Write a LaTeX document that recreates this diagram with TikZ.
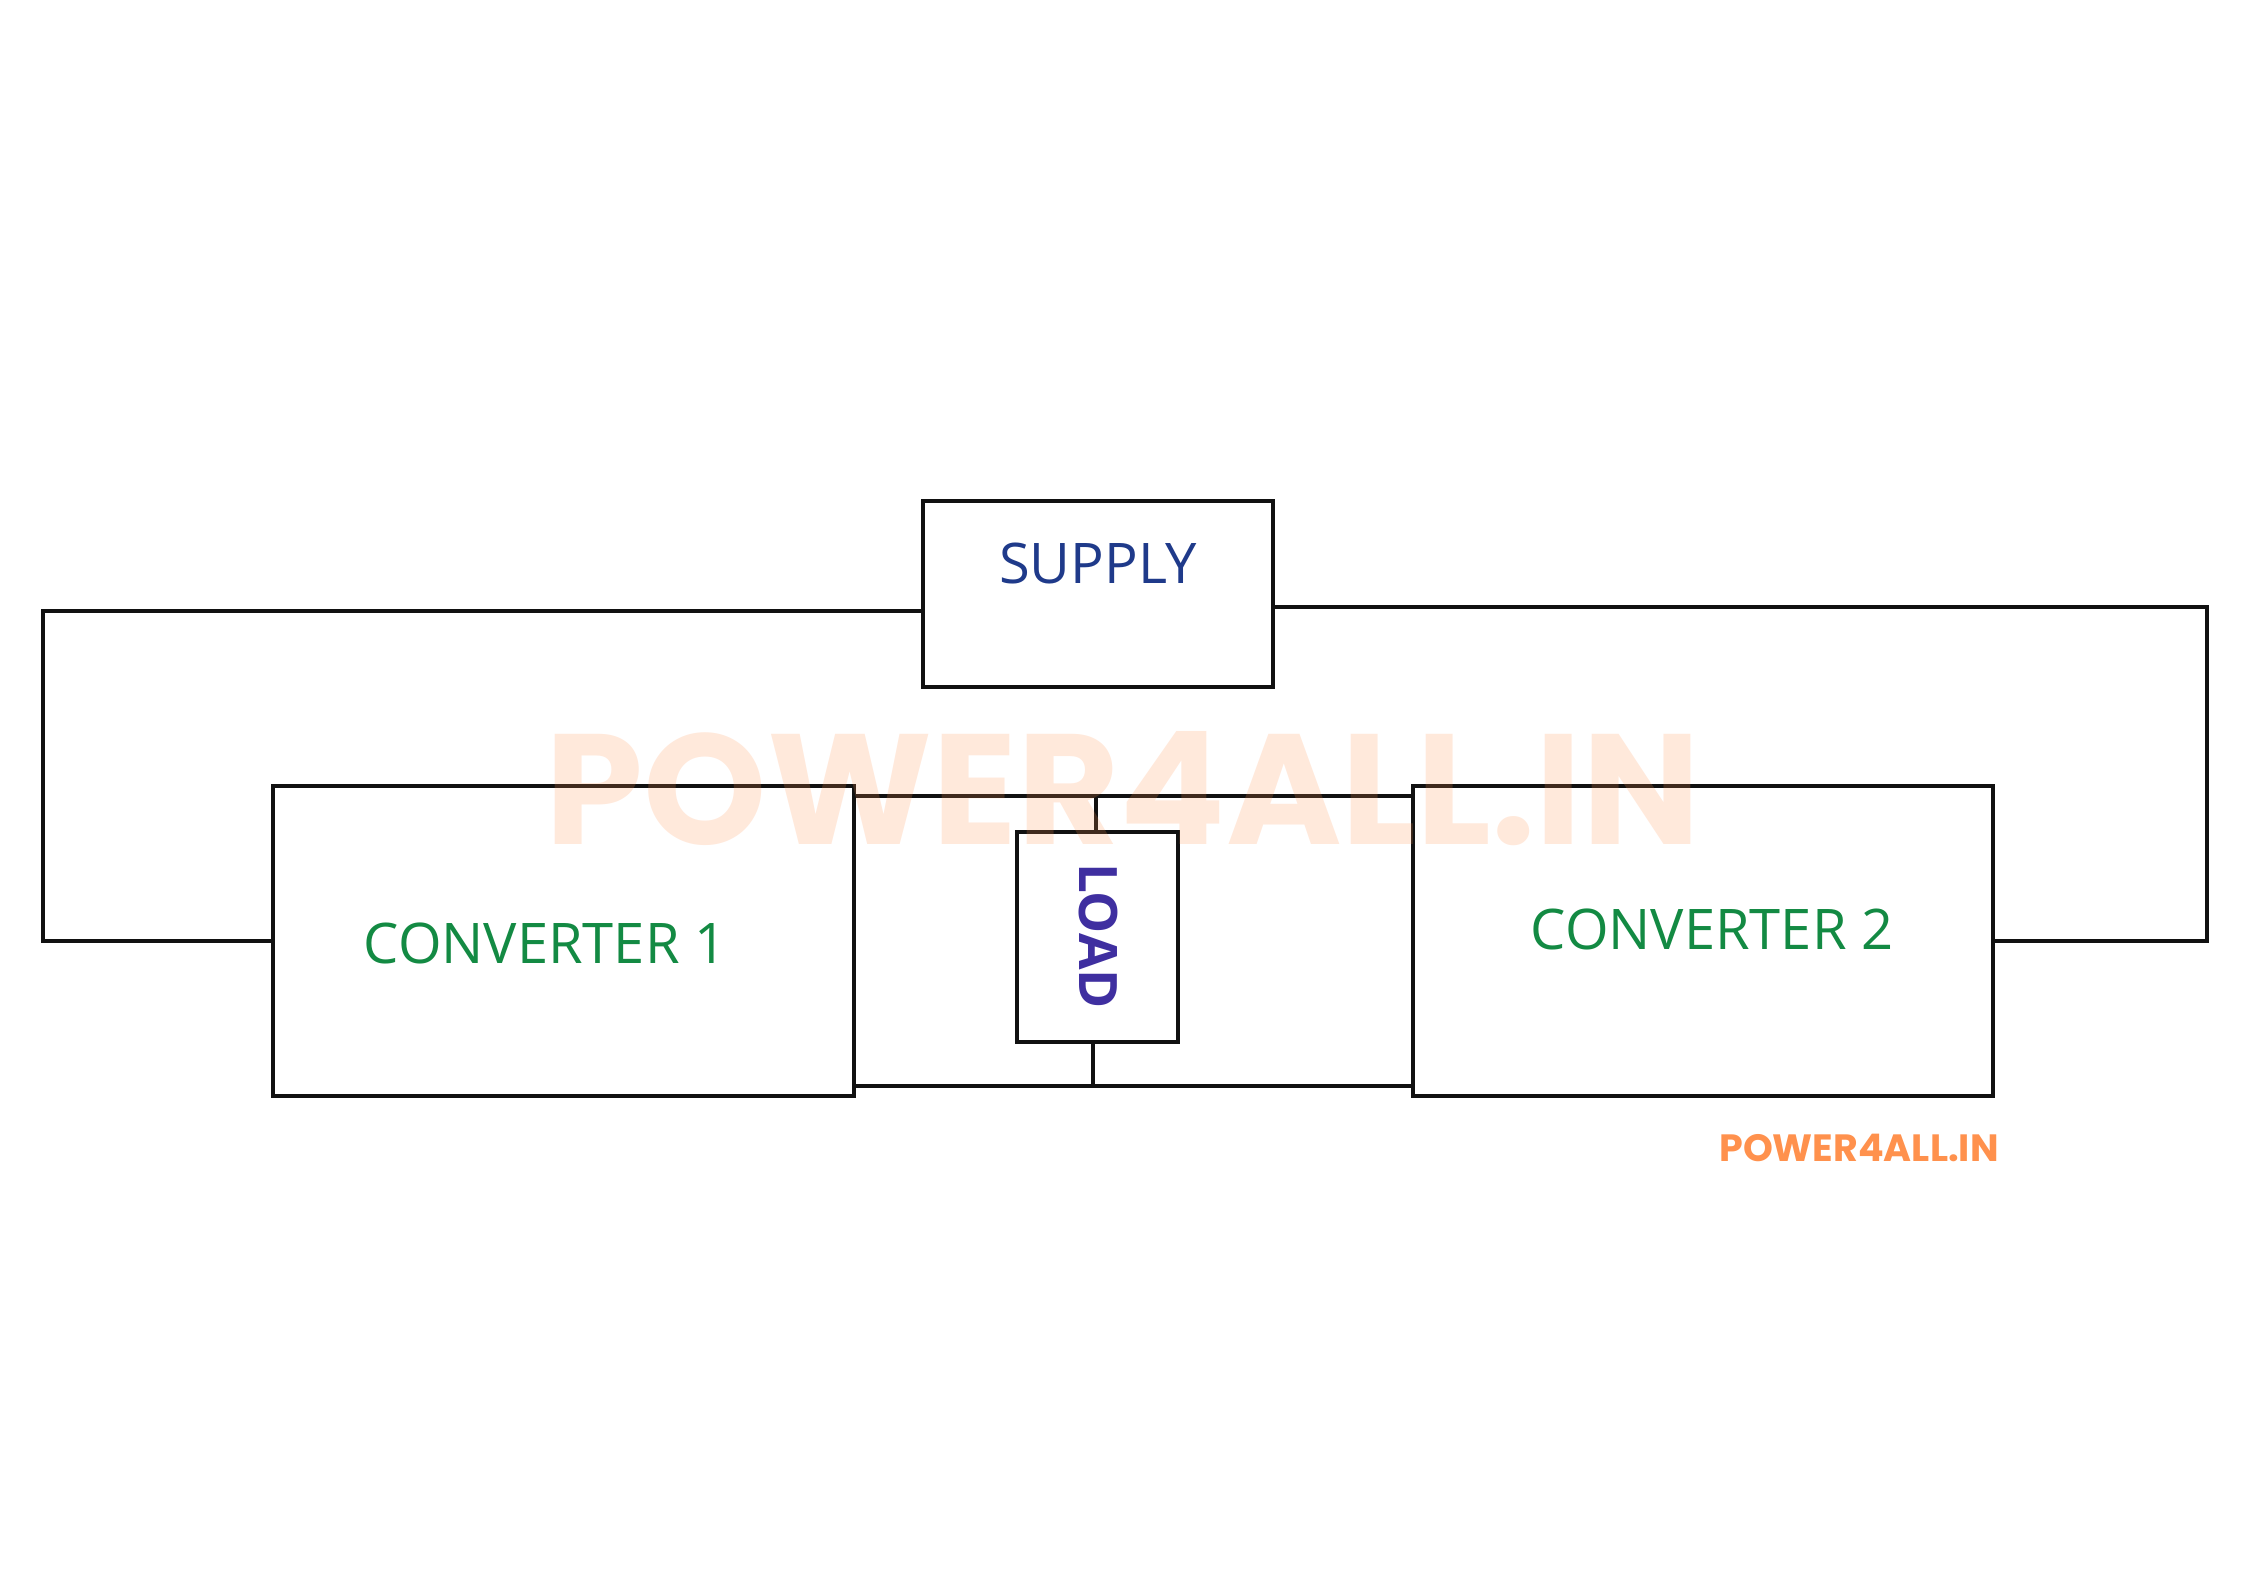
\documentclass[tikz,border=0pt]{standalone}
\usepackage{fontspec}
\setmainfont{Open Sans}
\newfontfamily\wmfont{Poppins}
\definecolor{wire}{HTML}{111111}
\definecolor{supplyblue}{HTML}{1F3A8A}
\definecolor{convgreen}{HTML}{138A43}
\definecolor{loadpurple}{HTML}{3F2FA0}
\definecolor{brandorange}{HTML}{FF914D}
\begin{document}
\begin{tikzpicture}[x=1pt,y=-1pt,
  box/.style={draw=wire,line width=4.5pt,rectangle,inner sep=0pt,fill=white},
  wireline/.style={draw=wire,line width=4.5pt,line join=miter},
  lbl/.style={inner sep=0pt,font=\fontsize{56}{60}\selectfont}]
\useasboundingbox[fill=white] (0,0) rectangle (2250,1592);
% boxes
\node[box,minimum width=350pt,minimum height=186pt] (supply) at (1098,594) {};
\node[box,minimum width=581pt,minimum height=310pt] (conv1) at (563.5,941) {};
\node[box,minimum width=580pt,minimum height=310pt] (conv2) at (1703,941) {};
\node[box,minimum width=161pt,minimum height=210pt] (load) at (1097.5,937) {};
% labels
\node[lbl,text=supplyblue] (supplytxt) at (1098,563) {SUPPLY};
\node[lbl,text=convgreen] (conv1txt) at (545,943) {CONVERTER 1};
\node[lbl,text=convgreen] (conv2txt) at (1712,929) {CONVERTER 2};
\node[inner sep=0pt,text=loadpurple,rotate=-90,font=\fontsize{53}{60}\selectfont\bfseries] (loadtxt) at (1098,936) {LOAD};
% wire corner coordinates
\coordinate (lt) at (43,611);
\coordinate (lb) at (43,941);
\coordinate (rt) at (2207,607);
\coordinate (rb) at (2207,941);
% supply to converters
\draw[wireline] (supply.west |- lt) -- (lt) -- (lb) -- (conv1.west);
\draw[wireline] (supply.east |- rt) -- (rt) -- (rb) -- (conv2.east);
% buses
\coordinate (topbusL) at ([xshift=-2pt]conv1.east |- 0,796);
\coordinate (topbusR) at ([xshift=2pt]conv2.west |- 0,796);
\coordinate (botbusL) at ([xshift=-2pt]conv1.east |- 0,1086);
\coordinate (botbusR) at ([xshift=2pt]conv2.west |- 0,1086);
\draw[wireline] (topbusL) -- (topbusR);
\draw[wireline] (botbusL) -- (botbusR);
\coordinate (ltap) at (1096,796);
\coordinate (lbtap) at (1093,1088);
\draw[wireline] (ltap) -- (ltap |- load.north);
\draw[wireline] (lbtap |- load.south) -- (lbtap);
% watermark
\node[inner sep=0pt,text=brandorange,opacity=0.2,font=\wmfont\fontsize{157}{170}\selectfont\bfseries] (wm) at (1123,789) {POWER4ALL.IN};
\node[inner sep=0pt,text=brandorange,font=\wmfont\fontsize{38}{44}\selectfont\bfseries] (brand) at (1859,1148) {POWER4ALL.IN};
\end{tikzpicture}
\end{document}
